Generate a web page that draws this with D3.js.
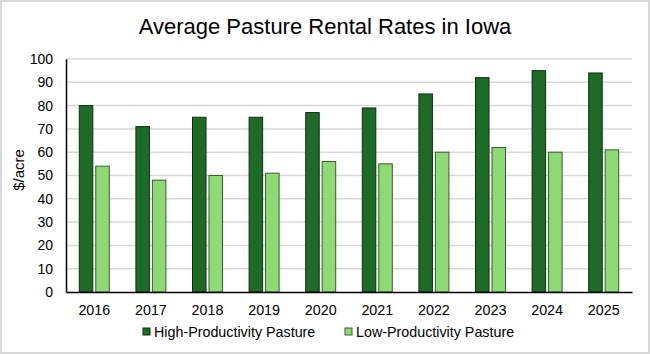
<!DOCTYPE html>
<html>
<head>
<meta charset="utf-8">
<script src="https://cdn.jsdelivr.net/npm/d3@7"></script>
<style>
  body { margin: 0; background: #fff; }
  svg { display: block; font-family: "Liberation Sans", Arial, sans-serif; }
</style>
</head>
<body>
<div id="chart"></div>
<script>
// data
const years = ["2016", "2017", "2018", "2019", "2020", "2021", "2022", "2023", "2024", "2025"];
const highValues = [80, 71, 75, 75, 77, 79, 85, 92, 95, 94];
const lowValues = [54, 48, 50, 51, 56, 55, 60, 62, 60, 61];
const seriesNames = ["High-Productivity Pasture", "Low-Productivity Pasture"];
const yTicks = [0, 10, 20, 30, 40, 50, 60, 70, 80, 90, 100];

const colors = ["#1e6b28", "#8edb76"];

const svg = d3.select("#chart").append("svg")
    .attr("width", 650)
    .attr("height", 354);

// outer border
svg.append("rect")
    .attr("x", 1).attr("y", 1)
    .attr("width", 648).attr("height", 352)
    .attr("fill", "#fff")
    .attr("stroke", "#d9d9d9")
    .attr("stroke-width", 2);

const margin = { top: 59, right: 18, bottom: 62, left: 66 };
const width = 650 - margin.left - margin.right;
const height = 354 - margin.top - margin.bottom;

const chart = svg.append("g")
    .attr("transform", `translate(${margin.left},${margin.top})`);

const x0 = d3.scaleBand()
    .domain(years)
    .range([0, width])
    .paddingInner(0.47)
    .paddingOuter(0.235);

const x1 = d3.scaleBand()
    .domain([0, 1])
    .range([0, x0.bandwidth()])
    .paddingInner(0.18);

const y = d3.scaleLinear()
    .domain([0, 100])
    .range([height, 0]);

// gridlines
chart.append("g")
    .selectAll("line")
    .data(yTicks.filter(d => d > 0))
    .enter()
    .append("line")
    .attr("x1", 0)
    .attr("x2", width)
    .attr("y1", d => y(d))
    .attr("y2", d => y(d))
    .attr("stroke", "#d9d9d9")
    .attr("stroke-width", 1.5);

// y axis
const yAxis = chart.append("g")
    .call(d3.axisLeft(y).tickValues(yTicks).tickSize(0).tickPadding(13));
yAxis.select(".domain").attr("stroke", "#000").attr("stroke-width", 1.5);
yAxis.selectAll("text").style("font-size", "14px").attr("fill", "#000");

// bars
const rows = years.map((yr, i) => ({ year: yr, vals: [highValues[i], lowValues[i]] }));

const groups = chart.selectAll("g.grp")
    .data(rows)
    .enter()
    .append("g")
    .attr("class", "grp")
    .attr("transform", d => `translate(${x0(d.year)},0)`);

groups.selectAll("rect")
    .data(d => d.vals.map((v, k) => ({ k: k, v: v })))
    .enter()
    .append("rect")
    .attr("x", d => x1(d.k))
    .attr("y", d => y(d.v))
    .attr("width", x1.bandwidth())
    .attr("height", d => height - y(d.v))
    .attr("fill", d => colors[d.k])
    .attr("stroke", d => d.k === 0 ? "#0d3012" : "#3a5a32")
    .attr("stroke-width", 1);

// x axis
const xAxis = chart.append("g")
    .attr("transform", `translate(0,${height})`)
    .call(d3.axisBottom(x0).tickSize(0).tickPadding(13));
xAxis.select(".domain").attr("stroke", "#000").attr("stroke-width", 1.5);
xAxis.selectAll("text").style("font-size", "14.3px").attr("fill", "#000");

// title
svg.append("text")
    .attr("x", 325)
    .attr("y", 34)
    .attr("text-anchor", "middle")
    .style("font-size", "22px")
    .text("Average Pasture Rental Rates in Iowa");

// y label
svg.append("text")
    .attr("transform", "rotate(-90)")
    .attr("x", -170)
    .attr("y", 24)
    .attr("text-anchor", "middle")
    .style("font-size", "15px")
    .text("$/acre");

// legend
const legendX = [143, 345];
const legend = svg.selectAll("g.leg")
    .data(seriesNames)
    .enter()
    .append("g")
    .attr("class", "leg")
    .attr("transform", (d, i) => `translate(${legendX[i]},328)`);

legend.append("rect")
    .attr("width", 7)
    .attr("height", 7)
    .attr("fill", (d, i) => colors[i])
    .attr("stroke", (d, i) => i === 0 ? "#0d3012" : "#3a5a32")
    .attr("stroke-width", 1);

legend.append("text")
    .attr("x", 11)
    .attr("y", 8.5)
    .style("font-size", "14.3px")
    .text(d => d);
</script>
</body>
</html>
